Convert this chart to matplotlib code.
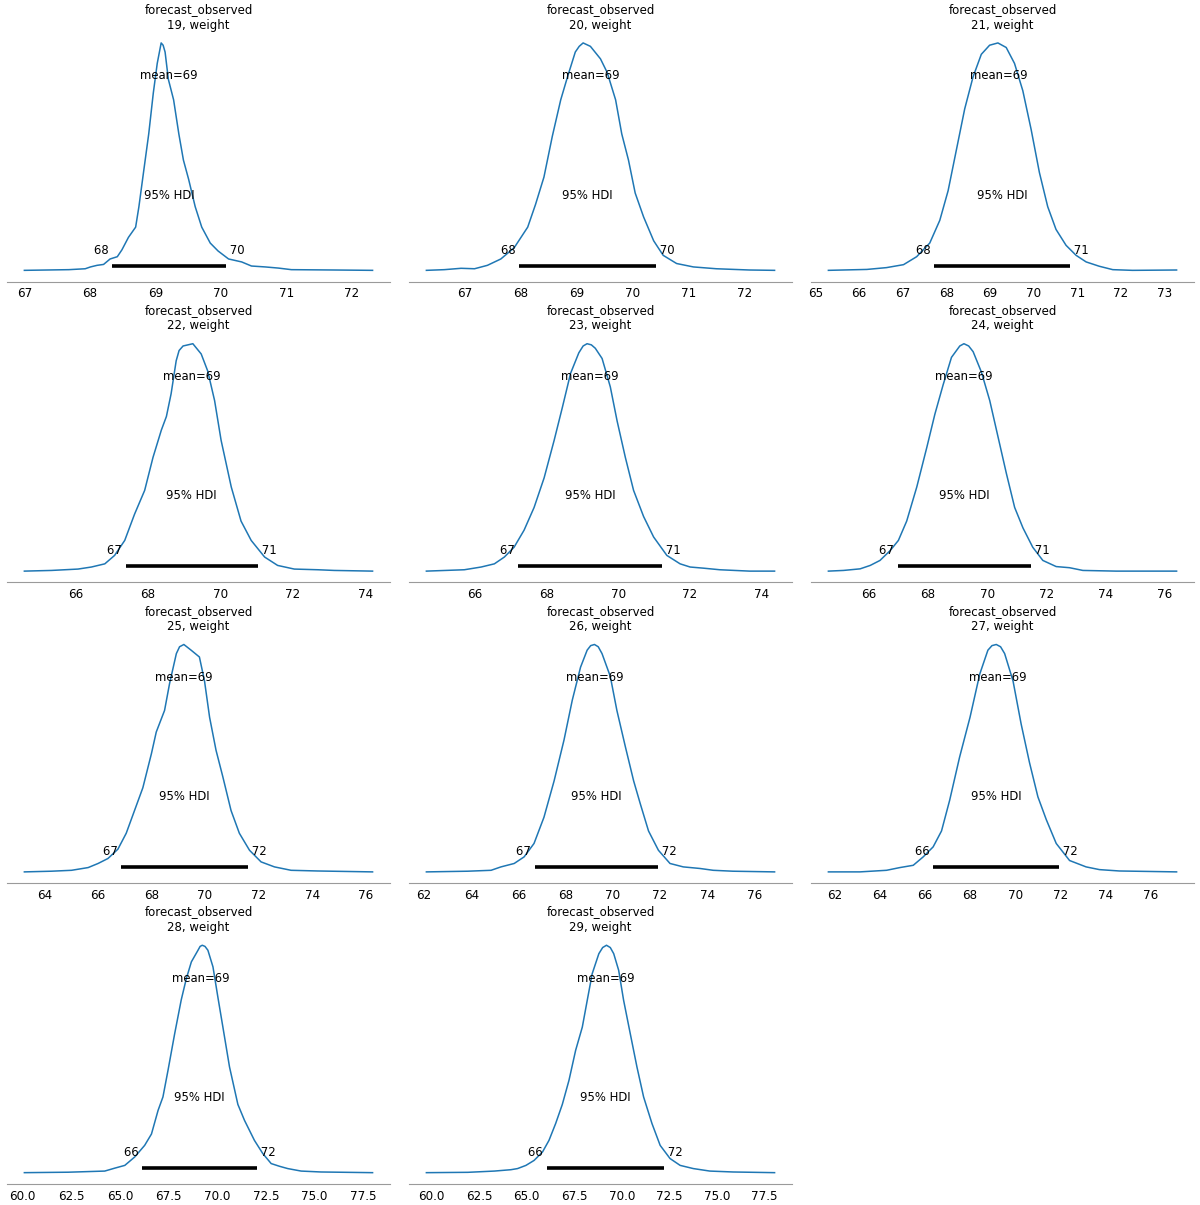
import matplotlib
matplotlib.use("Agg")
import matplotlib.pyplot as plt

obs = [19, 20, 21, 22, 23, 24, 25, 26, 27, 28, 29]

x19 = [67.00, 67.68, 67.93, 68.01, 68.11, 68.21, 68.31, 68.42, 68.49, 68.59, 68.70, 68.75, 68.82, 68.90, 68.97, 69.03, 69.09, 69.12,
       69.15, 69.20, 69.28, 69.36, 69.43, 69.51, 69.61, 69.71, 69.84, 69.96, 70.12, 70.32, 70.47, 70.68, 70.88, 71.08, 71.74, 72.32]
y19 = [0, 0.003, 0.007, 0.015, 0.022, 0.026, 0.05, 0.06, 0.09, 0.145, 0.19, 0.28, 0.43, 0.60, 0.78, 0.91, 1.0, 0.99,
       0.96, 0.84, 0.75, 0.60, 0.485, 0.40, 0.28, 0.19, 0.12, 0.085, 0.05, 0.037, 0.019, 0.015, 0.01, 0.003, 0.0015, 0]

x20 = [66.32, 66.64, 66.94, 67.18, 67.41, 67.65, 67.89, 68.13, 68.27, 68.42, 68.57, 68.72, 68.84, 68.98, 69.05, 69.12,
       69.25, 69.43, 69.55, 69.70, 69.81, 69.93, 70.05, 70.20, 70.38, 70.55, 70.79, 71.09, 71.50, 72.09, 72.54]
y20 = [0, 0.003, 0.009, 0.007, 0.022, 0.05, 0.10, 0.19, 0.29, 0.41, 0.59, 0.75, 0.85, 0.96, 0.985, 1.0,
       0.985, 0.93, 0.87, 0.75, 0.60, 0.485, 0.34, 0.235, 0.13, 0.066, 0.03, 0.015, 0.007, 0.0015, 0]

x21 = [65.30, 66.18, 66.63, 67.02, 67.32, 67.62, 67.85, 68.04, 68.23, 68.42, 68.61, 68.80, 68.99, 69.18,
       69.37, 69.56, 69.75, 69.94, 70.13, 70.32, 70.51, 70.74, 70.97, 71.20, 71.50, 71.81, 72.26, 73.27]
y21 = [0, 0.004, 0.012, 0.025, 0.06, 0.12, 0.22, 0.35, 0.53, 0.71, 0.85, 0.95, 0.99, 1.0,
       0.98, 0.91, 0.79, 0.62, 0.43, 0.28, 0.18, 0.11, 0.066, 0.037, 0.018, 0.003, 0, 0.0015]

x22 = [64.59, 65.34, 66.07, 66.44, 66.81, 67.08, 67.36, 67.63, 67.91, 68.14, 68.37, 68.51, 68.64, 68.78, 68.86, 68.97,
       69.24, 69.47, 69.65, 69.84, 70.02, 70.30, 70.57, 70.85, 71.22, 71.58, 72.04, 72.69, 73.14, 74.20]
y22 = [0, 0.003, 0.009, 0.018, 0.032, 0.069, 0.135, 0.25, 0.355, 0.50, 0.62, 0.68, 0.78, 0.925, 0.97, 0.99,
       1.0, 0.955, 0.88, 0.75, 0.575, 0.37, 0.22, 0.135, 0.062, 0.025, 0.009, 0.006, 0.003, 0]

x23 = [64.64, 65.70, 66.17, 66.54, 66.82, 67.09, 67.37, 67.65, 67.93, 68.21, 68.44, 68.67, 68.90, 69.02, 69.13, 69.25,
       69.36, 69.55, 69.78, 69.97, 70.20, 70.43, 70.71, 70.99, 71.36, 71.73, 72.01, 72.38, 72.84, 73.67, 74.37]
y23 = [0, 0.006, 0.018, 0.032, 0.062, 0.105, 0.18, 0.28, 0.41, 0.575, 0.72, 0.87, 0.96, 0.99, 1.0, 0.995,
       0.98, 0.935, 0.81, 0.66, 0.50, 0.355, 0.24, 0.15, 0.069, 0.032, 0.018, 0.013, 0.006, 0, 0]

x24 = [64.65, 65.16, 65.72, 66.06, 66.39, 66.73, 67.01, 67.29, 67.63, 67.97, 68.24, 68.52, 68.80, 69.08, 69.22, 69.38,
       69.53, 69.81, 70.09, 70.37, 70.65, 70.93, 71.21, 71.54, 71.88, 72.33, 72.78, 73.23, 74.35, 76.39]
y24 = [0, 0.003, 0.01, 0.025, 0.047, 0.09, 0.135, 0.22, 0.37, 0.545, 0.69, 0.82, 0.94, 0.99, 1.0, 0.99,
       0.965, 0.875, 0.75, 0.59, 0.43, 0.28, 0.19, 0.105, 0.047, 0.02, 0.015, 0.003, 0, 0]

x25 = [63.26, 64.27, 65.02, 65.64, 66.01, 66.38, 66.75, 67.06, 67.37, 67.68, 68.00, 68.18, 68.49, 68.68, 68.93, 69.05,
       69.21, 69.48, 69.79, 69.98, 70.17, 70.41, 70.66, 70.97, 71.28, 71.66, 72.09, 72.59, 73.21, 74.20, 76.25]
y25 = [0, 0.003, 0.007, 0.019, 0.037, 0.059, 0.10, 0.17, 0.27, 0.37, 0.52, 0.615, 0.71, 0.83, 0.96, 0.99,
       1.0, 0.975, 0.945, 0.84, 0.68, 0.535, 0.42, 0.27, 0.17, 0.095, 0.044, 0.022, 0.007, 0.004, 0]

x26 = [62.10, 63.85, 64.84, 65.26, 65.82, 66.24, 66.66, 67.08, 67.51, 67.93, 68.28, 68.63, 68.91, 69.06, 69.22, 69.38,
       69.54, 69.89, 70.17, 70.53, 70.88, 71.16, 71.51, 71.93, 72.42, 72.98, 73.69, 74.25, 75.08, 76.85]
y26 = [0, 0.003, 0.007, 0.022, 0.037, 0.066, 0.125, 0.24, 0.40, 0.58, 0.755, 0.90, 0.975, 0.995, 1.0, 0.99,
       0.96, 0.86, 0.71, 0.55, 0.40, 0.30, 0.18, 0.095, 0.037, 0.022, 0.015, 0.007, 0.003, 0]

x27 = [61.74, 63.13, 64.31, 64.90, 65.49, 65.93, 66.37, 66.74, 67.10, 67.54, 68.00, 68.43, 68.79, 68.97,
       69.16, 69.35, 69.53, 69.90, 70.26, 70.63, 71.00, 71.37, 71.81, 72.40, 73.13, 73.72, 74.60, 77.13]
y27 = [0, 0, 0.007, 0.019, 0.029, 0.066, 0.11, 0.18, 0.315, 0.505, 0.68, 0.87, 0.975, 0.995,
       1.0, 0.99, 0.96, 0.84, 0.65, 0.48, 0.33, 0.23, 0.125, 0.05, 0.022, 0.01, 0.004, 0]

x28 = [60.09, 62.34, 64.22, 64.74, 65.25, 65.76, 66.27, 66.62, 66.96, 67.21, 67.47, 67.81, 68.15, 68.41, 68.67, 69.01, 69.12,
       69.23, 69.37, 69.52, 69.78, 70.03, 70.29, 70.63, 71.06, 71.40, 71.91, 72.34, 72.77, 73.20, 73.62, 74.31, 75.33, 77.98]
y28 = [0, 0.002, 0.007, 0.02, 0.032, 0.069, 0.12, 0.17, 0.274, 0.333, 0.45, 0.61, 0.76, 0.853, 0.927, 0.978, 0.995,
       1.0, 0.995, 0.978, 0.905, 0.773, 0.64, 0.465, 0.30, 0.23, 0.142, 0.084, 0.04, 0.028, 0.018, 0.007, 0.003, 0]

x29 = [59.74, 61.92, 63.31, 64.18, 64.53, 64.97, 65.40, 65.84, 66.18, 66.53, 66.88, 67.23, 67.58, 67.93, 68.19, 68.45,
       68.80, 69.00, 69.20, 69.40, 69.58, 69.84, 70.10, 70.45, 70.80, 71.15, 71.59, 72.02, 72.54, 73.07, 73.76, 74.63,
       75.85, 78.03]
y29 = [0, 0.0015, 0.007, 0.013, 0.018, 0.032, 0.054, 0.091, 0.142, 0.216, 0.30, 0.406, 0.538, 0.64, 0.758, 0.875,
       0.963, 0.99, 1.0, 0.99, 0.963, 0.89, 0.758, 0.611, 0.465, 0.333, 0.216, 0.12, 0.062, 0.032, 0.018, 0.007,
       0.003, 0]

means = [69.20, 69.26, 69.19, 69.21, 69.20, 69.21, 69.20, 69.24, 69.21, 69.13, 69.18]
hdi_lo = [68.34, 67.98, 67.72, 67.39, 67.21, 66.98, 66.88, 66.69, 66.37, 66.15, 66.06]
hdi_hi = [70.08, 70.42, 70.82, 71.03, 71.22, 71.49, 71.59, 71.93, 71.93, 72.05, 72.20]

xs = [x19, x20, x21, x22, x23, x24, x25, x26, x27, x28, x29]
ys = [y19, y20, y21, y22, y23, y24, y25, y26, y27, y28, y29]

TXT = 8.4

fig, axes = plt.subplots(4, 3, figsize=(12, 12.05), dpi=100)
fig.subplots_adjust(left=0.0058, right=0.995, bottom=0.0174, top=0.9738, wspace=0.0496, hspace=0.2024)
axes = axes.ravel()

for i, ax in enumerate(axes):
    if i >= len(obs):
        ax.remove()
        continue
    ax.plot(xs[i], ys[i], color="#1f77b4", lw=1.1, solid_joinstyle="round")
    plot_height = ax.get_ylim()[1]
    lo, hi = hdi_lo[i], hdi_hi[i]

    # hdi bar + labels, placed the way arviz does
    ax.plot([lo, hi], [plot_height * 0.02] * 2, lw=2.6, color="k", solid_capstyle="butt")
    ax.text(lo, plot_height * 0.07, f"{lo:.2g} ", size=TXT, ha="right")
    ax.text(hi, plot_height * 0.07, f" {hi:.2g}", size=TXT, ha="left")
    ax.text((lo + hi) / 2, plot_height * 0.3, "95% HDI", size=TXT, ha="center")
    ax.text(means[i], plot_height * 0.8, f"mean={means[i]:.2g}", size=TXT, ha="center")

    ax.set_title(f"forecast_observed\n{obs[i]}, weight", fontsize=8.5, pad=1.5, linespacing=1.25)
    ax.set_yticks([])
    for side in ["left", "right", "top"]:
        ax.spines[side].set_visible(False)
    ax.spines["bottom"].set_color("#9a9a9a")
    ax.tick_params(axis="x", length=0, labelsize=8.6, pad=4)

fig.savefig("out.png", dpi=100)
